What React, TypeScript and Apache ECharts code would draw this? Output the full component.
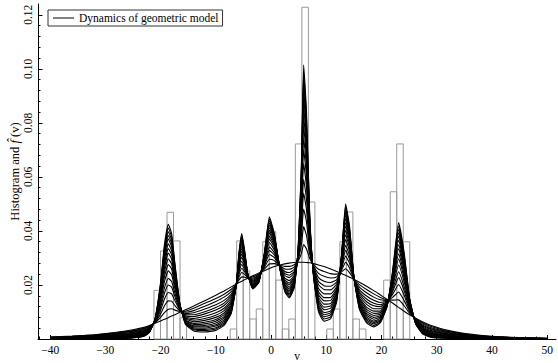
import { useEffect, useRef } from "react";
import * as echarts from "echarts";

// ---------- data ----------
const SERIES_NAME = "Dynamics of geometric model";

// sample positions v shared by all curves
const V_GRID = [
  -40, -36, -32, -28, -25, -23, -22, -21, -20, -19.3,
  -18.6, -18, -17.3, -16.5, -15.5, -14, -12, -10, -8.5, -7.2,
  -6.3, -5.8, -5.3, -4.8, -4.2, -3.3, -2.2, -1.2, -0.3, 0.6,
  1.6, 2.5, 3.3, 4.2, 4.9, 5.5, 5.9, 6.4, 7.0, 7.7,
  8.6, 9.6, 10.8, 11.9, 12.8, 13.5, 14.2, 15.0, 16.0, 17.3,
  18.6, 19.8, 21.0, 22.0, 23.1, 24.1, 25.1, 26.2, 27.5, 29,
  32, 36, 40, 45, 50,
];

// curves of the dynamics, from the broad start to the peaked end
const CURVE_00 = [
  0.0007, 0.0011, 0.0016, 0.0025, 0.0034, 0.0043, 0.0050, 0.0058, 0.0067, 0.0073,
  0.0079, 0.0085, 0.0091, 0.0099, 0.0108, 0.0122, 0.0142, 0.0162, 0.0178, 0.0193,
  0.0203, 0.0209, 0.0214, 0.0219, 0.0225, 0.0234, 0.0244, 0.0253, 0.0261, 0.0268,
  0.0274, 0.0278, 0.0281, 0.0283, 0.0284, 0.0284, 0.0284, 0.0283, 0.0282, 0.0279,
  0.0274, 0.0268, 0.0259, 0.0250, 0.0242, 0.0236, 0.0229, 0.0221, 0.0210, 0.0195,
  0.0179, 0.0163, 0.0147, 0.0133, 0.0117, 0.0103, 0.0090, 0.0077, 0.0063, 0.0050,
  0.0032, 0.0018, 0.0010, 0.0005, 0.0003,
];
const CURVE_01 = [
  0.0006, 0.0010, 0.0015, 0.0023, 0.0031, 0.0040, 0.0048, 0.0060, 0.0080, 0.0098,
  0.0110, 0.0112, 0.0106, 0.0102, 0.0103, 0.0114, 0.0132, 0.0150, 0.0166, 0.0184,
  0.0203, 0.0219, 0.0230, 0.0229, 0.0226, 0.0230, 0.0241, 0.0259, 0.0278, 0.0279,
  0.0273, 0.0269, 0.0269, 0.0275, 0.0288, 0.0317, 0.0350, 0.0334, 0.0298, 0.0275,
  0.0258, 0.0250, 0.0242, 0.0240, 0.0249, 0.0260, 0.0246, 0.0222, 0.0201, 0.0183,
  0.0167, 0.0154, 0.0145, 0.0144, 0.0145, 0.0123, 0.0095, 0.0075, 0.0059, 0.0046,
  0.0029, 0.0016, 0.0009, 0.0005, 0.0003,
];
const CURVE_02 = [
  0.0006, 0.0009, 0.0013, 0.0021, 0.0029, 0.0037, 0.0046, 0.0061, 0.0093, 0.0123,
  0.0141, 0.0140, 0.0121, 0.0105, 0.0099, 0.0105, 0.0121, 0.0139, 0.0155, 0.0175,
  0.0202, 0.0229, 0.0246, 0.0239, 0.0228, 0.0225, 0.0238, 0.0265, 0.0295, 0.0290,
  0.0271, 0.0259, 0.0258, 0.0266, 0.0292, 0.0350, 0.0416, 0.0385, 0.0314, 0.0270,
  0.0243, 0.0232, 0.0226, 0.0230, 0.0256, 0.0284, 0.0263, 0.0223, 0.0192, 0.0171,
  0.0155, 0.0145, 0.0142, 0.0154, 0.0174, 0.0142, 0.0101, 0.0073, 0.0055, 0.0042,
  0.0027, 0.0015, 0.0008, 0.0004, 0.0002,
];
const CURVE_03 = [
  0.0005, 0.0008, 0.0012, 0.0019, 0.0026, 0.0034, 0.0043, 0.0063, 0.0106, 0.0148,
  0.0172, 0.0167, 0.0137, 0.0107, 0.0094, 0.0097, 0.0111, 0.0127, 0.0143, 0.0166,
  0.0202, 0.0239, 0.0262, 0.0249, 0.0229, 0.0221, 0.0235, 0.0271, 0.0313, 0.0301,
  0.0270, 0.0250, 0.0246, 0.0258, 0.0296, 0.0383, 0.0481, 0.0436, 0.0330, 0.0266,
  0.0227, 0.0214, 0.0209, 0.0220, 0.0263, 0.0307, 0.0281, 0.0223, 0.0183, 0.0159,
  0.0143, 0.0135, 0.0140, 0.0165, 0.0202, 0.0162, 0.0106, 0.0071, 0.0051, 0.0038,
  0.0024, 0.0013, 0.0007, 0.0004, 0.0002,
];
const CURVE_04 = [
  0.0005, 0.0007, 0.0011, 0.0017, 0.0024, 0.0031, 0.0041, 0.0064, 0.0117, 0.0170,
  0.0200, 0.0192, 0.0150, 0.0110, 0.0090, 0.0090, 0.0101, 0.0117, 0.0133, 0.0159,
  0.0202, 0.0248, 0.0276, 0.0258, 0.0230, 0.0217, 0.0232, 0.0276, 0.0328, 0.0311,
  0.0269, 0.0242, 0.0236, 0.0250, 0.0300, 0.0412, 0.0540, 0.0481, 0.0344, 0.0262,
  0.0213, 0.0197, 0.0195, 0.0212, 0.0269, 0.0328, 0.0296, 0.0224, 0.0175, 0.0148,
  0.0132, 0.0127, 0.0138, 0.0174, 0.0227, 0.0179, 0.0111, 0.0069, 0.0047, 0.0035,
  0.0022, 0.0012, 0.0007, 0.0003, 0.0002,
];
const CURVE_05 = [
  0.0004, 0.0006, 0.0010, 0.0015, 0.0021, 0.0029, 0.0040, 0.0065, 0.0127, 0.0189,
  0.0224, 0.0213, 0.0162, 0.0112, 0.0086, 0.0083, 0.0093, 0.0107, 0.0124, 0.0152,
  0.0202, 0.0256, 0.0288, 0.0266, 0.0231, 0.0213, 0.0230, 0.0281, 0.0341, 0.0319,
  0.0268, 0.0235, 0.0227, 0.0244, 0.0303, 0.0438, 0.0591, 0.0521, 0.0357, 0.0258,
  0.0201, 0.0183, 0.0182, 0.0204, 0.0275, 0.0347, 0.0309, 0.0225, 0.0168, 0.0138,
  0.0123, 0.0120, 0.0136, 0.0182, 0.0249, 0.0194, 0.0115, 0.0068, 0.0044, 0.0031,
  0.0019, 0.0011, 0.0006, 0.0003, 0.0002,
];
const CURVE_06 = [
  0.0004, 0.0006, 0.0009, 0.0014, 0.0019, 0.0027, 0.0038, 0.0067, 0.0139, 0.0212,
  0.0252, 0.0238, 0.0176, 0.0115, 0.0082, 0.0076, 0.0084, 0.0097, 0.0114, 0.0144,
  0.0201, 0.0265, 0.0302, 0.0275, 0.0233, 0.0210, 0.0227, 0.0287, 0.0357, 0.0329,
  0.0267, 0.0226, 0.0216, 0.0236, 0.0307, 0.0467, 0.0650, 0.0567, 0.0371, 0.0255,
  0.0187, 0.0167, 0.0167, 0.0195, 0.0281, 0.0368, 0.0325, 0.0226, 0.0160, 0.0128,
  0.0112, 0.0112, 0.0134, 0.0192, 0.0274, 0.0212, 0.0120, 0.0066, 0.0041, 0.0028,
  0.0017, 0.0010, 0.0005, 0.0003, 0.0002,
];
const CURVE_07 = [
  0.0003, 0.0005, 0.0007, 0.0012, 0.0017, 0.0024, 0.0036, 0.0068, 0.0149, 0.0231,
  0.0276, 0.0259, 0.0187, 0.0117, 0.0078, 0.0070, 0.0076, 0.0088, 0.0105, 0.0137,
  0.0201, 0.0272, 0.0314, 0.0282, 0.0234, 0.0206, 0.0225, 0.0291, 0.0370, 0.0338,
  0.0266, 0.0219, 0.0207, 0.0230, 0.0310, 0.0493, 0.0701, 0.0606, 0.0383, 0.0251,
  0.0175, 0.0153, 0.0154, 0.0187, 0.0286, 0.0386, 0.0338, 0.0226, 0.0153, 0.0118,
  0.0103, 0.0104, 0.0132, 0.0200, 0.0296, 0.0227, 0.0124, 0.0064, 0.0037, 0.0025,
  0.0015, 0.0008, 0.0004, 0.0002, 0.0001,
];
const CURVE_08 = [
  0.0003, 0.0004, 0.0007, 0.0010, 0.0015, 0.0022, 0.0034, 0.0069, 0.0157, 0.0248,
  0.0297, 0.0277, 0.0198, 0.0119, 0.0075, 0.0064, 0.0069, 0.0080, 0.0097, 0.0131,
  0.0201, 0.0279, 0.0325, 0.0289, 0.0234, 0.0203, 0.0223, 0.0295, 0.0381, 0.0345,
  0.0265, 0.0213, 0.0200, 0.0224, 0.0313, 0.0515, 0.0745, 0.0640, 0.0394, 0.0248,
  0.0164, 0.0141, 0.0143, 0.0181, 0.0291, 0.0402, 0.0349, 0.0227, 0.0147, 0.0110,
  0.0095, 0.0098, 0.0130, 0.0207, 0.0315, 0.0240, 0.0128, 0.0063, 0.0035, 0.0022,
  0.0013, 0.0007, 0.0004, 0.0002, 0.0001,
];
const CURVE_09 = [
  0.0002, 0.0003, 0.0006, 0.0009, 0.0013, 0.0020, 0.0033, 0.0070, 0.0166, 0.0264,
  0.0318, 0.0295, 0.0208, 0.0120, 0.0071, 0.0058, 0.0062, 0.0072, 0.0090, 0.0125,
  0.0201, 0.0286, 0.0335, 0.0296, 0.0235, 0.0200, 0.0220, 0.0299, 0.0393, 0.0352,
  0.0264, 0.0207, 0.0192, 0.0219, 0.0316, 0.0537, 0.0788, 0.0674, 0.0405, 0.0245,
  0.0154, 0.0129, 0.0132, 0.0174, 0.0296, 0.0418, 0.0361, 0.0227, 0.0141, 0.0102,
  0.0087, 0.0092, 0.0128, 0.0214, 0.0334, 0.0253, 0.0131, 0.0062, 0.0032, 0.0020,
  0.0011, 0.0006, 0.0003, 0.0002, 0.0001,
];
const CURVE_10 = [
  0.0002, 0.0003, 0.0005, 0.0008, 0.0012, 0.0019, 0.0032, 0.0071, 0.0173, 0.0278,
  0.0335, 0.0311, 0.0216, 0.0122, 0.0069, 0.0054, 0.0056, 0.0066, 0.0083, 0.0121,
  0.0201, 0.0291, 0.0344, 0.0301, 0.0236, 0.0198, 0.0219, 0.0303, 0.0402, 0.0358,
  0.0264, 0.0202, 0.0185, 0.0214, 0.0318, 0.0555, 0.0825, 0.0703, 0.0414, 0.0243,
  0.0145, 0.0118, 0.0123, 0.0169, 0.0300, 0.0431, 0.0370, 0.0228, 0.0136, 0.0095,
  0.0080, 0.0087, 0.0127, 0.0220, 0.0349, 0.0264, 0.0134, 0.0061, 0.0030, 0.0017,
  0.0010, 0.0005, 0.0003, 0.0001, 0.0001,
];
const CURVE_11 = [
  0.0001, 0.0002, 0.0004, 0.0007, 0.0010, 0.0017, 0.0030, 0.0071, 0.0180, 0.0292,
  0.0352, 0.0326, 0.0224, 0.0123, 0.0066, 0.0049, 0.0050, 0.0059, 0.0077, 0.0116,
  0.0201, 0.0297, 0.0353, 0.0307, 0.0237, 0.0195, 0.0217, 0.0306, 0.0412, 0.0364,
  0.0263, 0.0197, 0.0179, 0.0210, 0.0320, 0.0573, 0.0862, 0.0731, 0.0423, 0.0240,
  0.0137, 0.0108, 0.0114, 0.0163, 0.0304, 0.0445, 0.0380, 0.0228, 0.0131, 0.0088,
  0.0073, 0.0082, 0.0126, 0.0225, 0.0365, 0.0274, 0.0137, 0.0060, 0.0027, 0.0015,
  0.0008, 0.0005, 0.0002, 0.0001, 0.0001,
];
const CURVE_12 = [
  0.0001, 0.0002, 0.0003, 0.0006, 0.0009, 0.0015, 0.0029, 0.0072, 0.0187, 0.0306,
  0.0370, 0.0341, 0.0233, 0.0125, 0.0064, 0.0045, 0.0045, 0.0053, 0.0071, 0.0111,
  0.0200, 0.0302, 0.0362, 0.0312, 0.0238, 0.0193, 0.0215, 0.0309, 0.0421, 0.0370,
  0.0262, 0.0191, 0.0173, 0.0205, 0.0323, 0.0591, 0.0898, 0.0759, 0.0432, 0.0238,
  0.0128, 0.0098, 0.0104, 0.0158, 0.0308, 0.0458, 0.0389, 0.0229, 0.0126, 0.0082,
  0.0066, 0.0077, 0.0124, 0.0231, 0.0381, 0.0285, 0.0140, 0.0059, 0.0025, 0.0013,
  0.0007, 0.0004, 0.0002, 0.0001, 0.0000,
];
const CURVE_13 = [
  0.0001, 0.0001, 0.0003, 0.0005, 0.0008, 0.0014, 0.0028, 0.0073, 0.0193, 0.0317,
  0.0383, 0.0353, 0.0240, 0.0126, 0.0061, 0.0041, 0.0040, 0.0048, 0.0065, 0.0107,
  0.0200, 0.0307, 0.0369, 0.0317, 0.0238, 0.0191, 0.0214, 0.0312, 0.0429, 0.0375,
  0.0262, 0.0187, 0.0167, 0.0201, 0.0324, 0.0606, 0.0927, 0.0782, 0.0439, 0.0236,
  0.0121, 0.0090, 0.0097, 0.0153, 0.0311, 0.0468, 0.0397, 0.0229, 0.0122, 0.0076,
  0.0061, 0.0072, 0.0123, 0.0236, 0.0393, 0.0294, 0.0143, 0.0058, 0.0023, 0.0011,
  0.0006, 0.0003, 0.0001, 0.0001, 0.0000,
];
const CURVE_14 = [
  0.0001, 0.0001, 0.0002, 0.0004, 0.0006, 0.0013, 0.0027, 0.0074, 0.0199, 0.0328,
  0.0397, 0.0366, 0.0247, 0.0128, 0.0059, 0.0037, 0.0035, 0.0042, 0.0060, 0.0103,
  0.0200, 0.0311, 0.0376, 0.0321, 0.0239, 0.0189, 0.0213, 0.0315, 0.0437, 0.0380,
  0.0261, 0.0183, 0.0162, 0.0197, 0.0326, 0.0621, 0.0957, 0.0805, 0.0446, 0.0234,
  0.0114, 0.0082, 0.0090, 0.0149, 0.0314, 0.0479, 0.0405, 0.0229, 0.0118, 0.0071,
  0.0056, 0.0068, 0.0122, 0.0241, 0.0406, 0.0303, 0.0145, 0.0057, 0.0022, 0.0010,
  0.0004, 0.0002, 0.0001, 0.0000, 0.0000,
];
const CURVE_15 = [
  0.0000, 0.0000, 0.0002, 0.0003, 0.0005, 0.0011, 0.0026, 0.0074, 0.0204, 0.0339,
  0.0411, 0.0378, 0.0253, 0.0129, 0.0057, 0.0034, 0.0031, 0.0037, 0.0055, 0.0099,
  0.0200, 0.0316, 0.0383, 0.0326, 0.0239, 0.0187, 0.0211, 0.0317, 0.0444, 0.0385,
  0.0261, 0.0179, 0.0157, 0.0194, 0.0328, 0.0635, 0.0986, 0.0827, 0.0453, 0.0232,
  0.0107, 0.0074, 0.0082, 0.0144, 0.0317, 0.0489, 0.0412, 0.0230, 0.0114, 0.0065,
  0.0050, 0.0064, 0.0121, 0.0245, 0.0418, 0.0311, 0.0148, 0.0056, 0.0020, 0.0008,
  0.0003, 0.0002, 0.0000, 0.0000, 0.0000,
];
const CURVE_16 = [
  0.0000, 0.0000, 0.0001, 0.0002, 0.0004, 0.0010, 0.0025, 0.0075, 0.0210, 0.0350,
  0.0425, 0.0390, 0.0260, 0.0130, 0.0055, 0.0030, 0.0026, 0.0032, 0.0050, 0.0095,
  0.0200, 0.0320, 0.0390, 0.0330, 0.0240, 0.0185, 0.0210, 0.0320, 0.0452, 0.0390,
  0.0260, 0.0175, 0.0152, 0.0190, 0.0330, 0.0650, 0.1015, 0.0850, 0.0460, 0.0230,
  0.0100, 0.0066, 0.0075, 0.0140, 0.0320, 0.0500, 0.0420, 0.0230, 0.0110, 0.0060,
  0.0045, 0.0060, 0.0120, 0.0250, 0.0431, 0.0320, 0.0150, 0.0055, 0.0018, 0.0006,
  0.0002, 0.0001, 0.0000, 0.0000, 0.0000,
];
const CURVES = [
  CURVE_00, CURVE_01, CURVE_02, CURVE_03, CURVE_04, CURVE_05, CURVE_06, CURVE_07, CURVE_08,
  CURVE_09, CURVE_10, CURVE_11, CURVE_12, CURVE_13, CURVE_14, CURVE_15, CURVE_16,
];

// histogram bins: left edge (v) and height
const BIN_WIDTH = 1.18;
const BIN_LEFT = [
  -21.2, -20.02, -18.84, -17.66, -16.48,
  -7.4, -6.22, -5.04, -3.86, -2.68, -1.5, -0.32, 0.86, 2.04, 3.22, 4.4, 5.58, 6.76,
  10.1, 11.28, 12.46, 13.64, 14.82, 16.0,
  20.4, 21.58, 22.76, 23.94,
];
const BIN_HEIGHT = [
  0.018, 0.0326, 0.0469, 0.0363, 0.0078,
  0.0037, 0.0363, 0.0252, 0.0074, 0.0111, 0.036, 0.0397, 0.0218, 0.0037, 0.0074, 0.0722, 0.1228, 0.0507,
  0.0037, 0.0111, 0.036, 0.047, 0.0074, 0.0037,
  0.0218, 0.0545, 0.0722, 0.036,
];

// axis ranges and ticks
const X_MIN = -42.2;
const X_MAX = 51.6;
const Y_MIN = 0;
const Y_MAX = 0.124;
const X_MAJOR_TICKS = [-40, -30, -20, -10, 0, 10, 20, 30, 40, 50];
const X_MINOR_TICKS = [
  -42, -38, -36, -34, -32, -28, -26, -24, -22, -18, -16, -14, -12, -8, -6, -4, -2,
  2, 4, 6, 8, 12, 14, 16, 18, 22, 24, 26, 28, 32, 34, 36, 38, 42, 44, 46, 48,
];
const Y_MAJOR_TICKS = [0.02, 0.04, 0.06, 0.08, 0.1, 0.12];
const Y_MINOR_TICKS = [
  0.004, 0.008, 0.012, 0.016, 0.024, 0.028, 0.032, 0.036, 0.044, 0.048, 0.052, 0.056,
  0.064, 0.068, 0.072, 0.076, 0.084, 0.088, 0.092, 0.096, 0.104, 0.108, 0.112, 0.116,
];

const FONT = "'Liberation Serif', 'Times New Roman', serif";

export default function App() {
  const ref = useRef<HTMLDivElement>(null);

  useEffect(() => {
    if (!ref.current) return;
    const chart = echarts.init(ref.current, undefined, { renderer: "svg" });

    const histData = BIN_LEFT.map((l, i) => [l, l + BIN_WIDTH, BIN_HEIGHT[i]]);

    const curveSeries = CURVES.map((c, k) => ({
      type: "line",
      name: SERIES_NAME,
      xAxisIndex: 0,
      yAxisIndex: 0,
      data: V_GRID.map((v, i) => [v, c[i]]),
      showSymbol: false,
      symbol: "none",
      smooth: 0.15,
      lineStyle: { color: "#000", width: 1.1 },
      itemStyle: { color: "#000" },
      z: 3 + k,
      silent: true,
    }));

    const minorAxisCommon = {
      axisLine: { show: false, onZero: false },
      axisLabel: { show: false },
      splitLine: { show: false },
    };

    chart.setOption({
      animation: false,
      backgroundColor: "#fff",
      textStyle: { fontFamily: FONT },
      grid: {
        left: 38,
        top: 4,
        width: 518,
        height: 335,
        containLabel: false,
        outerBoundsMode: "none",
      },
      legend: {
        data: [SERIES_NAME],
        left: 48,
        top: 10,
        icon: "rect",
        itemWidth: 21,
        itemHeight: 1,
        padding: [2, 4, 2, 5],
        borderColor: "#333",
        borderWidth: 1,
        backgroundColor: "#fff",
        selectedMode: false,
        textStyle: { fontFamily: FONT, fontSize: 11.5, color: "#000" },
      },
      xAxis: [
        {
          type: "value",
          min: X_MIN,
          max: X_MAX,
          position: "bottom",
          name: "v",
          nameLocation: "middle",
          nameGap: 11,
          nameMoveOverlap: false,
          nameTextStyle: { fontFamily: FONT, fontSize: 11.5, color: "#000", lineHeight: 11 },
          axisLine: { show: true, onZero: false, lineStyle: { color: "#000", width: 1 } },
          axisTick: {
            show: true,
            inside: true,
            length: 4,
            customValues: X_MAJOR_TICKS,
            lineStyle: { color: "#000", width: 1 },
          },
          axisLabel: {
            show: true,
            customValues: X_MAJOR_TICKS,
            margin: 5,
            fontFamily: FONT,
            fontSize: 11.5,
            color: "#000",
            formatter: (v: number) => (v < 0 ? "\u2212" + String(-v) : String(v)),
          },
          splitLine: { show: false },
        },
        {
          type: "value",
          min: X_MIN,
          max: X_MAX,
          position: "bottom",
          ...minorAxisCommon,
          axisTick: {
            show: true,
            inside: true,
            length: 2.5,
            customValues: X_MINOR_TICKS,
            lineStyle: { color: "#000", width: 1 },
          },
        },
      ],
      yAxis: [
        {
          type: "value",
          min: Y_MIN,
          max: Y_MAX,
          position: "left",
          name: "Histogram and {f|f\u0302} (v)",
          nameLocation: "middle",
          nameGap: 17,
          nameRotate: 90,
          nameMoveOverlap: false,
          nameTextStyle: {
            fontFamily: FONT,
            fontSize: 12.5,
            color: "#000",
            rich: { f: { fontFamily: FONT, fontSize: 12.5, fontStyle: "italic", color: "#000" } },
          },
          axisLine: { show: true, onZero: false, lineStyle: { color: "#000", width: 1 } },
          axisTick: {
            show: true,
            inside: true,
            length: 4.5,
            customValues: Y_MAJOR_TICKS,
            lineStyle: { color: "#000", width: 1 },
          },
          axisLabel: {
            show: true,
            customValues: Y_MAJOR_TICKS,
            rotate: 90,
            margin: 4,
            fontFamily: FONT,
            fontSize: 11.5,
            color: "#000",
            formatter: (v: number) => v.toFixed(2),
          },
          splitLine: { show: false },
        },
        {
          type: "value",
          min: Y_MIN,
          max: Y_MAX,
          position: "left",
          ...minorAxisCommon,
          axisTick: {
            show: true,
            inside: true,
            length: 2.5,
            customValues: Y_MINOR_TICKS,
            lineStyle: { color: "#000", width: 1 },
          },
        },
      ],
      series: [
        {
          type: "custom",
          name: "Histogram",
          xAxisIndex: 0,
          yAxisIndex: 0,
          data: histData,
          encode: { x: [0, 1], y: 2 },
          z: 1,
          silent: true,
          renderItem: (_params: any, api: any) => {
            const p0 = api.coord([api.value(0), api.value(2)]);
            const p1 = api.coord([api.value(1), 0]);
            return {
              type: "rect",
              shape: { x: p0[0], y: p0[1], width: p1[0] - p0[0], height: p1[1] - p0[1] },
              style: { fill: "none", stroke: "#9a9a9a", lineWidth: 1 },
            };
          },
        },
        ...curveSeries,
      ],
    });

    return () => chart.dispose();
  }, []);

  return (
    <div
      ref={ref}
      style={{ position: "absolute", left: 0, top: 0, width: 558, height: 363 }}
    />
  );
}
